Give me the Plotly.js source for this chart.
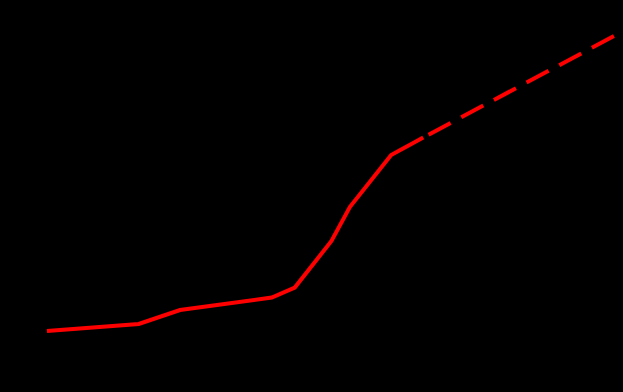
<!DOCTYPE html>
<html>
<head>
<meta charset="utf-8">
<script src="https://cdn.plot.ly/plotly-3.0.1.min.js"></script>
<style>html,body{margin:0;padding:0;background:#000;}</style>
</head>
<body>
<div id="chart" style="width:623px;height:392px;"></div>
<script>
// Observed series (solid)
var yearsActual = [1900, 1920, 1929, 1949, 1954, 1962, 1966, 1975, 1982];
var valuesActual = [6.1, 6.8, 8.2, 9.45, 10.45, 15.1, 18.5, 23.7, 25.45];
// Projected series (dashed)
var yearsProjected = [1982, 2024];
var valuesProjected = [25.45, 35.7];

var traces = [
  {x: yearsActual, y: valuesActual, type: 'scatter', mode: 'lines',
   line: {color: '#ff0000', width: 4}, hoverinfo: 'skip'},
  {x: yearsProjected, y: valuesProjected, type: 'scatter', mode: 'lines',
   line: {color: '#ff0000', width: 4, dash: '0px,6px,25px,6px'}, hoverinfo: 'skip'}
];

var layout = {
  width: 623, height: 392, autosize: false,
  margin: {l: 0, r: 0, t: 0, b: 0, pad: 0},
  paper_bgcolor: '#000000', plot_bgcolor: '#000000',
  showlegend: false,
  xaxis: {visible: false, range: [1889.76, 2025.53], fixedrange: true},
  yaxis: {visible: false, range: [0, 39.2], fixedrange: true}
};

Plotly.newPlot('chart', traces, layout, {displayModeBar: false, staticPlot: true});
</script>
</body>
</html>
